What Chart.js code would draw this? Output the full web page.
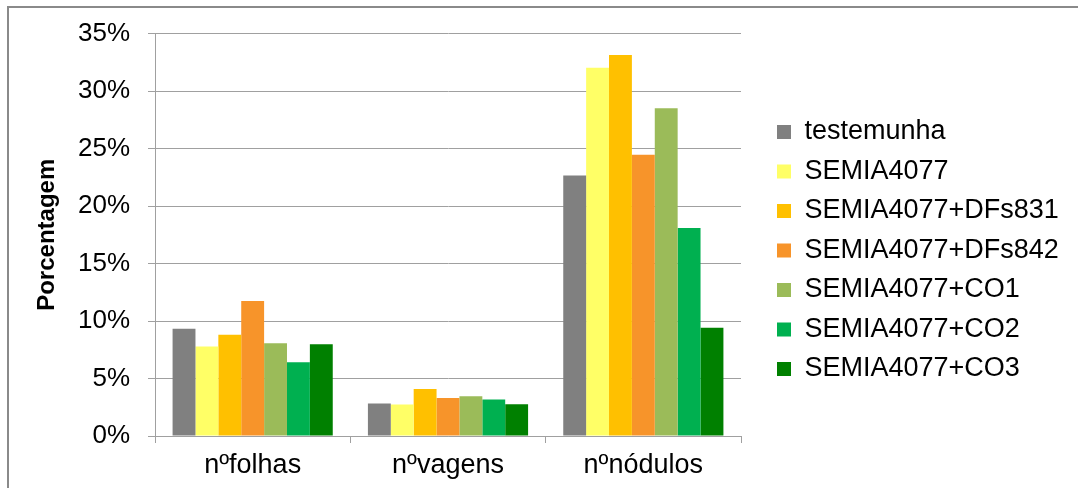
<!DOCTYPE html>
<html>
<head>
<meta charset="utf-8">
<script src="https://cdn.jsdelivr.net/npm/chart.js@4/dist/chart.umd.min.js"></script>
<style>
  html, body { margin: 0; padding: 0; background: #fff; overflow: hidden; }
  #wrap { position: relative; width: 1078px; height: 488px; }
  #frame { position: absolute; left: 7px; top: 6px; width: 1200px; height: 600px;
           border-left: 2px solid #8a8a8a; border-top: 2px solid #8a8a8a; pointer-events: none; }
  canvas { position: absolute; left: 0; top: 0; }
</style>
</head>
<body>
<div id="wrap">
  <canvas id="chart" width="1078" height="488"></canvas>
  <div id="frame"></div>
</div>
<script>
// Categories on the x axis
const categories = ['nºfolhas', 'nºvagens', 'nºnódulos'];

// Percentages for each treatment (folhas, vagens, nódulos)
const testemunha      = [9.33, 2.83, 22.65];
const semia4077       = [7.78, 2.74, 32.04];
const semiaDFs831     = [8.80, 4.09, 33.13];
const semiaDFs842     = [11.75, 3.31, 24.46];
const semiaCO1        = [8.07, 3.46, 28.50];
const semiaCO2        = [6.42, 3.17, 18.09];
const semiaCO3        = [7.98, 2.77, 9.42];

const seriesNames = ['testemunha', 'SEMIA4077', 'SEMIA4077+DFs831', 'SEMIA4077+DFs842',
                     'SEMIA4077+CO1', 'SEMIA4077+CO2', 'SEMIA4077+CO3'];
const seriesValues = [testemunha, semia4077, semiaDFs831, semiaDFs842, semiaCO1, semiaCO2, semiaCO3];
const seriesColors = ['#808080', '#FFFF66', '#FFC000', '#F7942A', '#9BBB59', '#00B050', '#008000'];

// Y axis: 0% .. 35% in steps of 5
const yMax = 35;
const yStep = 5;

const FONT = '"Liberation Sans", Arial, sans-serif';

// Fixed legend column width, and a gap between the plot area and the legend
const legendPlacement = {
  id: 'legendPlacement',
  beforeLayout(chart) {
    const lg = chart.legend;
    if (!lg || lg._fixedFit) return;
    const fit = lg.fit;
    lg.fit = function () { fit.call(this); this.width = 337; };
    lg._fixedFit = true;
  },
  afterLayout(chart) {
    const lg = chart.legend;
    if (!lg) return;
    lg.left += 23.5; lg.right += 23.5;
    lg.top -= 9; lg.bottom -= 9;
  }
};

new Chart(document.getElementById('chart'), {
  type: 'bar',
  data: {
    labels: categories,
    datasets: seriesValues.map((vals, i) => ({
      label: seriesNames[i],
      data: vals,
      backgroundColor: seriesColors[i],
      borderWidth: 0,
      categoryPercentage: 0.82,
      barPercentage: 1.0
    }))
  },
  options: {
    responsive: false,
    animation: false,
    devicePixelRatio: 1,
    layout: { padding: { left: 20, top: 31, right: 0, bottom: 0 } },
    plugins: {
      tooltip: { enabled: false },
      legend: {
        position: 'right',
        align: 'center',
        labels: {
          boxWidth: 14,
          boxHeight: 14,
          padding: 12.5,
          color: '#000',
          font: { family: FONT, size: 27 }
        }
      }
    },
    scales: {
      x: {
        afterFit(scale) { scale.height = 52; },
        grid: {
          offset: true,
          drawOnChartArea: false,
          drawTicks: true,
          tickLength: 7,
          color: '#a0a0a0'
        },
        border: { color: '#a0a0a0', width: 1 },
        ticks: { color: '#000', padding: 6, font: { family: FONT, size: 27 } }
      },
      y: {
        min: 0,
        max: yMax,
        afterFit(scale) { scale.width = 135; },
        ticks: {
          stepSize: yStep,
          padding: 18,
          color: '#000',
          font: { family: FONT, size: 26 },
          callback: v => v + '%'
        },
        grid: { color: '#a0a0a0', lineWidth: 1, tickLength: 7 },
        border: { color: '#a0a0a0', width: 1 },
        title: {
          display: true,
          text: 'Porcentagem',
          color: '#000',
          padding: { top: 13, bottom: 0 },
          font: { family: FONT, size: 24, weight: 'bold' }
        }
      }
    }
  },
  plugins: [legendPlacement]
});
</script>
</body>
</html>
